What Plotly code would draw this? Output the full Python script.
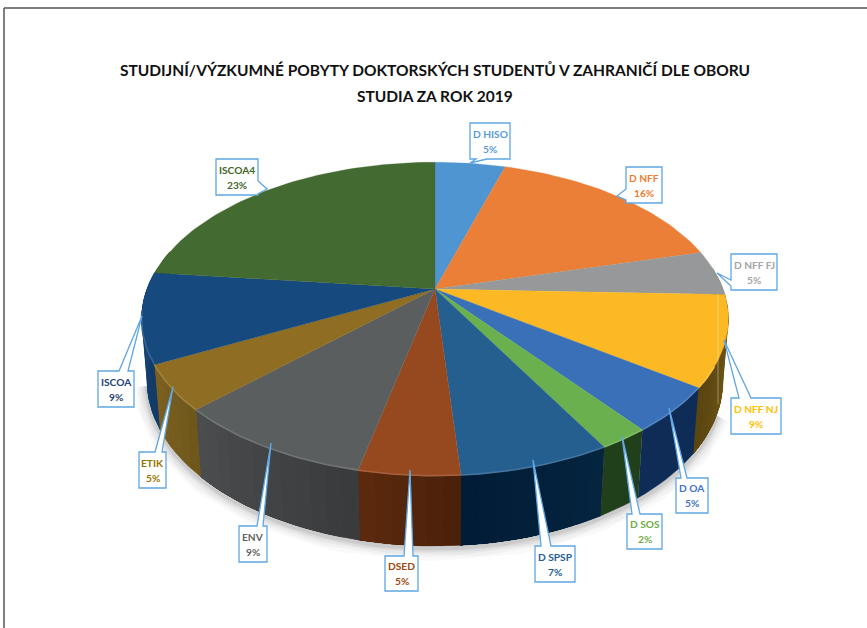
import math
import plotly.graph_objects as go

TITLE_LINES = ["STUDIJNÍ/VÝZKUMNÉ POBYTY DOKTORSKÝCH STUDENTŮ V ZAHRANIČÍ DLE OBORU", "STUDIA ZA ROK 2019"]
categories = ["D HISO", "D NFF", "D NFF FJ", "D NFF NJ", "D OA", "D SOS", "D SPSP", "DSED", "ENV", "ETIK", "ISCOA", "ISCOA4"]
counts = [2, 7, 2, 4, 2, 1, 3, 2, 4, 2, 4, 10]

top_colors = ["#4e95d1", "#ec7f37", "#969899", "#fdb924", "#3a70b8", "#6ab04f", "#245f8f", "#96481f", "#5a5e5f", "#8f6d22", "#164a7e", "#436a31"]
side_colors = [("#2f5a80", "#2f5a80"), ("#6b3a18", "#6b3a18"), ("#5a5a5a", "#5a5a5a"), ("#7a5f14", "#5a4512"),
               ("#0e2c55", "#0e2c55"), ("#20401c", "#20401c"), ("#05243f", "#011c36"), ("#4a200a", "#5c2a0e"),
               ("#383a3c", "#4b4d4e"), ("#6e561c", "#7d6120"), ("#123a66", "#174a80"), ("#2b451f", "#2b451f")]
label_colors = ["#5b9bd5", "#ed7d31", "#a5a5a5", "#ffc000", "#4472c4", "#70ad47", "#255e91", "#9e480e", "#636363", "#997300", "#264478", "#43682b"]

# Callouts: box (x0, x1, y0, y1), wedge start, tip, wedge end, in page pixels
callouts = [
    ((470, 510, 123, 159), (487, 159), (470, 163), (476, 159)),
    ((626, 662, 167, 203), (626, 189), (617, 196), (626, 200)),
    ((731, 777, 254, 290), (731, 280), (717, 273), (731, 286)),
    ((731, 781, 398, 434), (739, 398), (724, 340), (751, 398)),
    ((676, 708, 478, 513), (681, 478), (669, 408), (687, 478)),
    ((627, 662, 514, 549), (632, 514), (622, 436), (640, 514)),
    ((535, 575, 546, 582), (541, 546), (533, 460), (551, 546)),
    ((385, 418, 556, 591), (404, 556), (410, 470), (413, 556)),
    ((239, 267, 526, 562), (257, 526), (271, 443), (263, 526)),
    ((139, 166, 452, 488), (155, 452), (173, 387), (162, 452)),
    ((98, 134, 371, 407), (119, 371), (142, 316), (128, 371)),
    ((216, 258, 159, 195), (258, 181), (267, 189), (258, 194)),
]

CX, CY, A, B, C, K, M = 435, 289, 288, 151, 61.5, 0.191, 0.018
CALLOUT_BLUE = "#5fa6e2"
FONT = "Lato, sans-serif"


def project(theta_deg, z):
    t = math.radians(theta_deg)
    x, y = math.sin(t), math.cos(t)
    w = 1 + K * y + M * z
    return CX + A * x / w, CY - (B * y - C * z) / w


def arc(a0, a1, z, step=1.5):
    n = max(1, int(math.ceil(abs(a1 - a0) / step)))
    return [project(a0 + (a1 - a0) * i / n, z) for i in range(n + 1)]


def hex_rgb(c):
    return tuple(int(c[i:i + 2], 16) for i in (1, 3, 5))


def mix(c1, c2, f):
    a, b = hex_rgb(c1), hex_rgb(c2)
    return "rgb(%d,%d,%d)" % tuple(round(a[i] + (b[i] - a[i]) * f) for i in range(3))


fig = go.Figure()


def poly(points, fill, line=None, width=0.7):
    fig.add_trace(go.Scatter(x=[p[0] for p in points], y=[p[1] for p in points], mode="lines",
                             fill="toself", fillcolor=fill, line=dict(color=line or fill, width=width),
                             hoverinfo="skip", showlegend=False))


def polyline(points, color, width):
    fig.add_trace(go.Scatter(x=[p[0] for p in points], y=[p[1] for p in points], mode="lines",
                             line=dict(color=color, width=width), hoverinfo="skip", showlegend=False))


total = sum(counts)
edges = [0.0]
for v in counts:
    edges.append(edges[-1] + 360.0 * v / total)

# soft shadow under the front of the pie
for w_, alpha in [(26, 0.025), (20, 0.03), (14, 0.04), (9, 0.05), (5, 0.07)]:
    pts = [(x, y + 2) for x, y in arc(112, 258, 1)]
    polyline(pts, "rgba(0,0,0,%s)" % alpha, w_)

# side wall: a base polygon per slice, then bands that overlap the next one
for i in range(len(counts)):
    a0, a1 = max(edges[i], 82), min(edges[i + 1], 285)
    if a1 <= a0:
        continue
    poly(arc(a0, a1, 0, 2) + arc(a1, a0, 1, 2), mix(side_colors[i][0], side_colors[i][1], 0.5), width=0.4)
    if side_colors[i][0] == side_colors[i][1]:
        continue
    n = max(1, int(math.ceil((a1 - a0) / 3)))
    for j in range(n):
        t0 = a0 + (a1 - a0) * j / n
        t1 = a1  # each band reaches the slice end; later bands paint over it
        col = mix(side_colors[i][0], side_colors[i][1], (j + 0.5) / n)
        poly(arc(t0, t1, 0, 2) + arc(t1, t0, 1, 2), col, width=0)

# top slices
for i, col in enumerate(top_colors):
    poly([(CX, CY)] + arc(edges[i], edges[i + 1], 0) + [(CX, CY)], col, width=0.3)

# lighter rim on the front edge
for i in range(len(counts)):
    a0, a1 = max(edges[i], 118), min(edges[i + 1], 262)
    if a1 > a0:
        polyline(arc(a0, a1, 0), mix(top_colors[i], "#ffffff", 0.14), 1.6)

shapes = [
    dict(type="line", x0=4, x1=4, y0=8, y1=628, line=dict(color="#555555", width=1.5)),
    dict(type="line", x0=4, x1=867, y0=8, y1=8, line=dict(color="#555555", width=1.5)),
    dict(type="line", x0=718, x1=718, y0=294, y1=404, line=dict(color="rgba(255,255,255,0.45)", width=0.8)),
]
annotations = [dict(x=435, y=96, xref="x", yref="y", showarrow=False, text="<b>%s</b>" % TITLE_LINES[1],
                    font=dict(family=FONT, size=15.5, color="#111111"))]
for name, v, col, (box, w0, tip, w1) in zip(categories, counts, label_colors, callouts):
    x0, x1, y0, y1 = box
    if w0[1] == y0:    # wedge leaves the top edge
        pts = [(x0, y0), w0, tip, w1, (x1, y0), (x1, y1), (x0, y1)]
    elif w0[1] == y1:  # wedge leaves the bottom edge
        pts = [(x0, y0), (x1, y0), (x1, y1), w0, tip, w1, (x0, y1)]
    elif w0[0] == x0:  # left edge
        pts = [(x0, y0), (x1, y0), (x1, y1), (x0, y1), w1, tip, w0]
    else:              # right edge
        pts = [(x0, y0), (x1, y0), w0, tip, w1, (x1, y1), (x0, y1)]
    path = "M " + " L ".join("%g,%g" % p for p in pts) + " Z"
    shapes.append(dict(type="path", path=path, fillcolor="#ffffff", line=dict(color=CALLOUT_BLUE, width=1.3)))
    cx = (x0 + x1) / 2
    ym = 123 + 18 if False else (y0 + y1) / 2
    for txt, yy in ((name, ym - 7.5), ("%d%%" % round(100 * v / total), ym + 7.5)):
        annotations.append(dict(x=cx, y=yy, xref="x", yref="y", showarrow=False, text="<b>%s</b>" % txt,
                                font=dict(family=FONT, size=10.2, color=col)))

fig.update_layout(
    width=867, height=628, autosize=False,
    margin=dict(l=0, r=0, t=0, b=0),
    paper_bgcolor="#ffffff", plot_bgcolor="#ffffff",
    showlegend=False,
    title=dict(text="<b>%s</b>" % TITLE_LINES[0], x=435 / 867, xanchor="center", y=1 - 71 / 628, yanchor="middle",
               font=dict(family=FONT, size=15.5, color="#111111")),
    xaxis=dict(range=[0, 867], visible=False, fixedrange=True),
    yaxis=dict(range=[628, 0], visible=False, fixedrange=True),
    shapes=shapes, annotations=annotations,
)
fig.write_html("out.html", post_script="document.body.style.margin='0';document.body.style.overflow='hidden';",
               config={"displayModeBar": False})
